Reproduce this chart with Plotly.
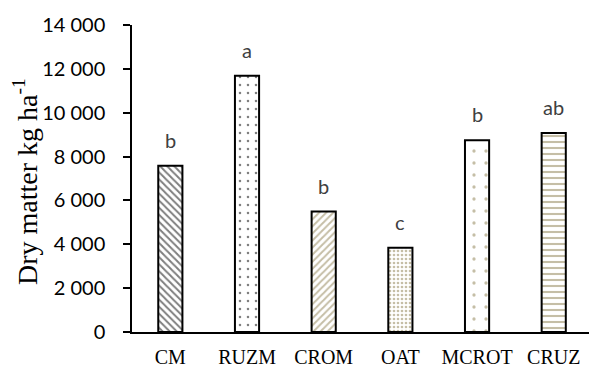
import plotly.graph_objects as go

categories = ["CM", "RUZM", "CROM", "OAT", "MCROT", "CRUZ"]
dry_matter = [7580, 11690, 5490, 3840, 8750, 9070]
letters = ["b", "a", "b", "c", "b", "ab"]
pattern_shapes = ["\\", ".", "/", ".", ".", "-"]
pattern_colors = ["#000000", "#000000", "#8c7d4e", "#8c7d4e", "#8c7d4e", "#8c7d4e"]
pattern_sizes = [5, 8, 5, 4, 12, 6]
pattern_solid = [0.4, 0.08, 0.4, 0.35, 0.06, 0.35]
y_ticks = [0, 2000, 4000, 6000, 8000, 10000, 12000, 14000]
y_tick_labels = ["0", "2 000", "4 000", "6 000", "8 000", "10 000", "12 000", "14 000"]

L, T, B, W, H = 132, 25, 35, 589, 367

fig = go.Figure()
fig.add_trace(go.Bar(
    x=categories,
    y=dry_matter,
    width=0.315,
    marker=dict(
        color="white",
        line=dict(color="black", width=2),
        pattern=dict(shape=pattern_shapes, fgcolor=pattern_colors, bgcolor="white",
                     size=pattern_sizes, solidity=pattern_solid, fillmode="overlay"),
    ),
    showlegend=False,
))

for c, v, l in zip(categories, dry_matter, letters):
    fig.add_annotation(x=c, y=v, text=l, showarrow=False, yanchor="bottom", yshift=12,
                       font=dict(family="Lato, Open Sans, sans-serif", size=20, color="#404040"))

plot_w = W - L
plot_h = H - T - B
fig.add_annotation(xref="paper", yref="paper",
                   x=(25 - L) / plot_w, y=(H - B - 182) / plot_h,
                   text="Dry matter kg ha<sup>-1</sup>", textangle=-90, showarrow=False,
                   xanchor="center", yanchor="middle",
                   font=dict(family="Liberation Serif, Times New Roman, serif", size=28, color="black"))

fig.update_layout(
    width=W, height=H,
    margin=dict(l=L, r=0, t=T, b=B),
    paper_bgcolor="white", plot_bgcolor="white",
    xaxis=dict(
        range=[-0.5, 5.46], automargin=False,
        showline=True, linecolor="black", linewidth=1.5,
        ticks="", showgrid=False, ticklabelstandoff=6,
        tickfont=dict(family="Liberation Serif, Times New Roman, serif", size=20, color="black"),
    ),
    yaxis=dict(
        range=[0, 14000], automargin=False,
        tickvals=y_ticks, ticktext=y_tick_labels,
        showline=True, linecolor="black", linewidth=1.5,
        ticks="outside", ticklen=7, tickwidth=1.5, tickcolor="black",
        showgrid=False, zeroline=False, ticklabelstandoff=14,
        tickfont=dict(family="Lato, Open Sans, sans-serif", size=20, color="black"),
    ),
)

fig.write_html("out.html", config={"displayModeBar": False},
               post_script="document.body.style.margin='0';document.body.style.overflow='hidden';")
